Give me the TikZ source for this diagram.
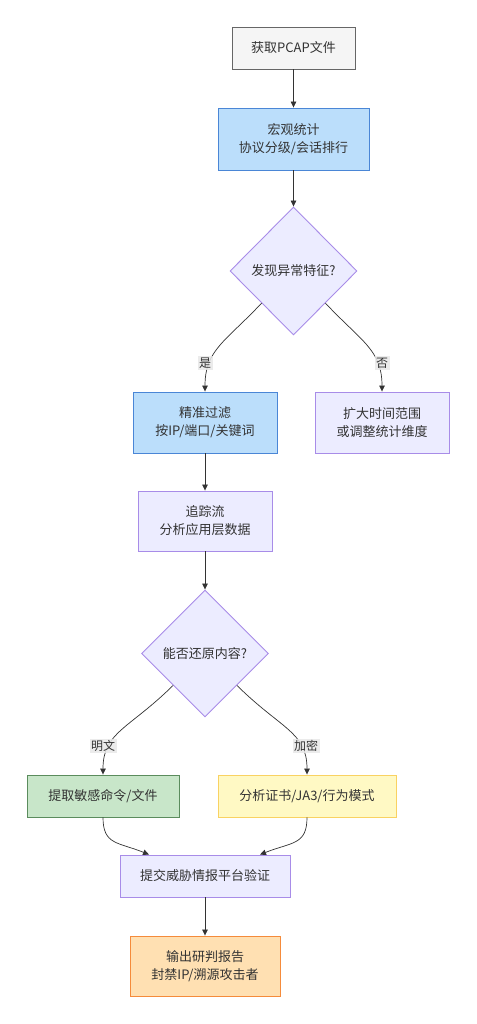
\documentclass[tikz,border=0pt]{standalone}
\usepackage{fontspec}
\setmainfont{Noto Sans CJK SC}
\usetikzlibrary{shapes.geometric,arrows.meta}
\definecolor{txt}{HTML}{333333}
\definecolor{edge}{HTML}{333333}
\definecolor{grayfill}{HTML}{F5F5F5}
\definecolor{graystroke}{HTML}{666666}
\definecolor{bluefill}{HTML}{BBDEFB}
\definecolor{bluestroke}{HTML}{4A86D6}
\definecolor{purfill}{HTML}{ECECFF}
\definecolor{purstroke}{HTML}{A88CE8}
\definecolor{greenfill}{HTML}{C8E6C9}
\definecolor{greenstroke}{HTML}{5B8C5D}
\definecolor{yelfill}{HTML}{FFF9C4}
\definecolor{yelstroke}{HTML}{F9D262}
\definecolor{orfill}{HTML}{FFE0B2}
\definecolor{orstroke}{HTML}{F58B3B}
\definecolor{lblbg}{HTML}{E8E8E8}
\begin{document}
\begin{tikzpicture}[x=1pt,y=-1pt,
  every node/.style={text=txt,font=\fontsize{13}{18}\selectfont},
  box/.style={draw,rectangle,line width=0.9pt,align=center,inner sep=0pt},
  dia/.style={draw,diamond,aspect=1,line width=0.9pt,fill=purfill,draw=purstroke,inner sep=1pt,minimum width=127pt,minimum height=128pt},
  lbl/.style={fill=lblbg,fill opacity=0.85,text opacity=1,inner sep=1.5pt,font=\fontsize{12}{14}\selectfont},
  conn/.style={draw=edge,line width=0.7pt,-{Triangle[length=6pt,width=5.5pt]}}
]
\useasboundingbox (0,0) rectangle (476,1024);
\node[box,fill=grayfill,draw=graystroke,minimum width=123pt,minimum height=42pt] (a) at (293.5,48) {获取PCAP文件};
\node[box,fill=bluefill,draw=bluestroke,minimum width=151pt,minimum height=62pt] (b) at (293.5,139) {宏观统计\\协议分级/会话排行};
\node[dia] (c) at (293.5,271) {发现异常特征?};
\node[box,fill=bluefill,draw=bluestroke,minimum width=144pt,minimum height=61pt] (d) at (205,422.5) {精准过滤\\按IP/端口/关键词};
\node[box,fill=purfill,draw=purstroke,minimum width=134pt,minimum height=61pt] (e) at (382,422.5) {扩大时间范围\\或调整统计维度};
\node[box,fill=purfill,draw=purstroke,minimum width=134pt,minimum height=60pt] (f) at (205,521) {追踪流\\分析应用层数据};
\node[dia,minimum width=127pt,minimum height=127pt] (g) at (205,653.5) {能否还原内容?};
\node[box,fill=greenfill,draw=greenstroke,minimum width=152pt,minimum height=42pt] (h) at (103,796) {提取敏感命令/文件};
\node[box,fill=yelfill,draw=yelstroke,minimum width=178pt,minimum height=42pt] (i) at (307,796) {分析证书/JA3/行为模式};
\node[box,fill=purfill,draw=purstroke,minimum width=170pt,minimum height=42pt] (j) at (205,876) {提交威胁情报平台验证};
\node[box,fill=orfill,draw=orstroke,minimum width=150pt,minimum height=60pt] (k) at (205,966) {输出研判报告\\封禁IP/溯源攻击者};

\draw[conn] (a.south) -- (b.north);
\draw[conn] (b.south) -- (c.north);
\draw[conn] (c.south west) .. controls (225,342) and (205,350) .. (d.north);
\draw[conn] (c.south east) .. controls (362,342) and (382,350) .. (e.north);
\draw[conn] (d.south) -- (f.north);
\draw[conn] (f.south) -- (g.north);
\draw[conn] (g.south west) .. controls (129,729) and (103,732) .. (h.north);
\draw[conn] (g.south east) .. controls (281,729) and (307,732) .. (i.north);
\draw[conn] (h.south) .. controls (103,845) and (118,842) .. ([xshift=-56pt]j.north);
\draw[conn] (i.south) .. controls (307,845) and (292,842) .. ([xshift=55pt]j.north);
\draw[conn] (j.south) -- (k.north);

\node[lbl] (l1) at (205,363) {是};
\node[lbl] (l2) at (382,363) {否};
\node[lbl] (l3) at (103,746) {明文};
\node[lbl] (l4) at (306,746) {加密};
\end{tikzpicture}
\end{document}
